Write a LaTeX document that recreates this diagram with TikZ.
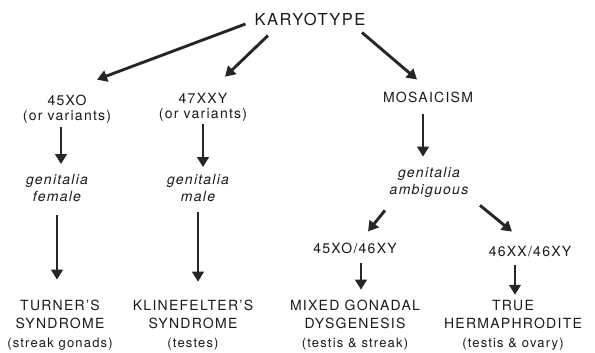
\documentclass[tikz,border=0pt]{standalone}
\usepackage{fontspec}
\setmainfont{TeX Gyre Heros}[LetterSpace=9]
\usetikzlibrary{arrows.meta}

\begin{document}
\begin{tikzpicture}[x=1pt, y=-1pt,
		txt/.style={inner sep=0, align=center, text=black!90, font=\fontsize{14}{15}\selectfont},
		two/.style={txt, font=\fontsize{14}{17}\itshape\selectfont},
		three/.style={txt, font=\fontsize{14}{18.5}\selectfont},
		arr/.style={line width=2.9pt, draw=black!85, -{Triangle[length=10pt, width=11.5pt]}}]
			%%%%% START %%%%%
			\useasboundingbox (0, 0) rectangle (595, 353);
			
			\node[txt, font=\fontsize{16.5}{18}\selectfont] (kary) at (310, 19) {KARYOTYPE};
			
			\node[txt] (xo) at (67, 109) {45XO\\(or variants)};
			\node[txt] (xxy) at (203, 107) {47XXY\\(or variants)};
			\node[txt] (mos) at (428, 97) {MOSAICISM};
			
			\node[two] (fem) at (57, 188) {genitalia\\female};
			\node[two] (male) at (198, 188) {genitalia\\male};
			\node[two] (amb) at (429, 182) {genitalia\\ambiguous};
			
			\node[txt] (xoxy) at (355, 248) {45XO/46XY};
			\node[txt] (xxxy) at (530, 252) {46XX/46XY};
			
			\node[three] (turner) at (60, 325) {TURNER'S\\SYNDROME\\{\fontsize{13}{15}\selectfont(streak gonads)}};
			\node[three] (kline) at (193, 325) {KLINEFELTER'S\\SYNDROME\\{\fontsize{13}{15}\selectfont(testes)}};
			\node[three] (mixed) at (355, 325) {MIXED GONADAL\\DYSGENESIS\\{\fontsize{13}{15}\selectfont(testis \& streak)}};
			\node[three] (true) at (513, 325) {TRUE\\HERMAPHRODITE\\{\fontsize{13}{15}\selectfont(testis \& ovary)}};
			
			% from the karyotype
			\draw[arr] ([shift={(-9, 5)}]kary.west) -- ([shift={(30, -15)}]xo.north);
			\draw[arr] ([shift={(-42, 10)}]kary.south) -- ([shift={(22, -16)}]xxy.north);
			\draw[arr] ([shift={(52, 7)}]kary.south) -- ([shift={(-11, -12)}]mos.north);
			
			% down the three columns
			\draw[arr] ([shift={(-6, 4)}]xo.south) -- ([shift={(4, -10)}]fem.north);
			\draw[arr] ([shift={(0, 3)}]xxy.south) -- ([shift={(5, -7)}]male.north);
			\draw[arr] ([shift={(-5, 11)}]mos.south) -- ([shift={(-6, -10)}]amb.north);
			
			\draw[arr] ([shift={(0, 13)}]fem.south) -- ([shift={(-3, -20)}]turner.north);
			\draw[arr] ([shift={(0, 10)}]male.south) -- ([shift={(5, -18)}]kline.north);
			
			\draw[arr] ([shift={(-44, 13)}]amb.south) -- ([shift={(13, -11)}]xoxy.north);
			\draw[arr] ([shift={(51, 8)}]amb.south) -- ([shift={(-18, -15)}]xxxy.north);
			
			\draw[arr] ([shift={(6, 9)}]xoxy.south) -- ([shift={(6, -10)}]mixed.north);
			\draw[arr] ([shift={(-15, 8)}]xxxy.south) -- ([shift={(2, -5)}]true.north);
			%%%%% END %%%%%
\end{tikzpicture}
\end{document}
